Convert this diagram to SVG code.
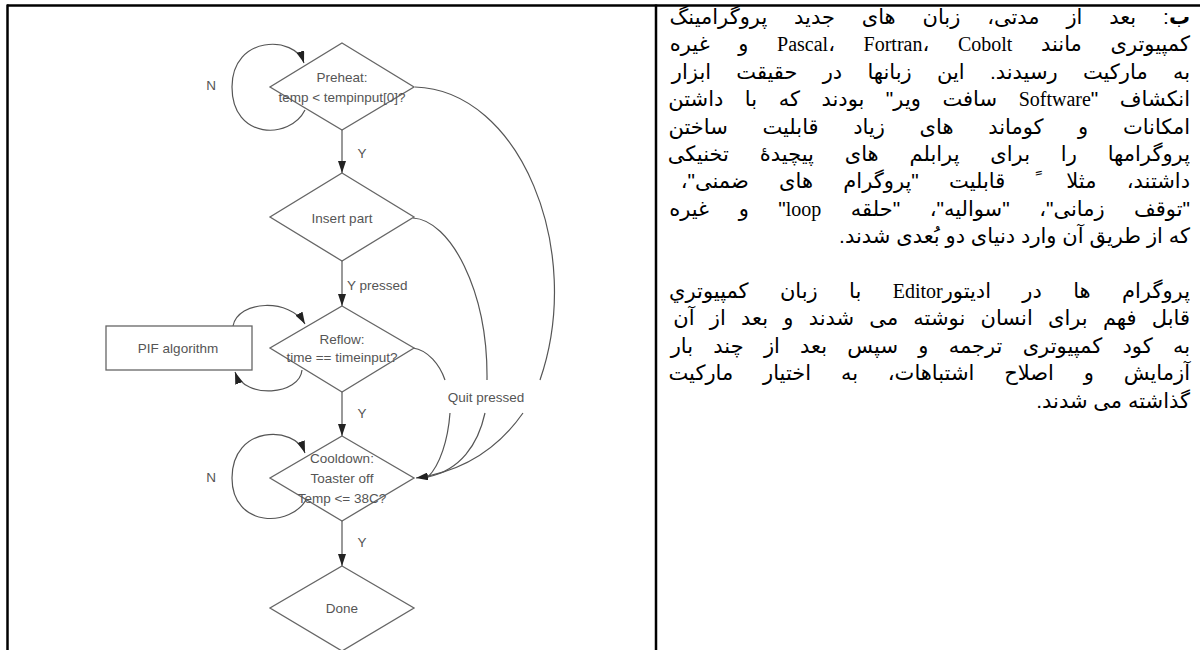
<svg xmlns="http://www.w3.org/2000/svg" width="1200" height="650" viewBox="0 0 1200 650">
<defs>
<marker id="ah" markerWidth="12" markerHeight="8" refX="12" refY="4" orient="auto" markerUnits="userSpaceOnUse">
<path d="M0,0 L12,4 L0,8 z" fill="#222"/>
</marker>
<style>
.shape{fill:#fff;stroke:#666;stroke-width:1.3}
.lbl{font-family:"Liberation Sans",Arial,sans-serif;font-size:13.5px;fill:#555;text-anchor:middle}
.cn{fill:none;stroke:#555;stroke-width:1.2}
.fa{font-family:"Liberation Sans","DejaVu Sans",sans-serif;font-size:21px;fill:#000}
.lat{font-family:"Liberation Serif","Times New Roman",serif;font-size:20px}
.frame{stroke:#000;stroke-width:2.5;fill:none}
</style>
</defs>
<rect width="1200" height="650" fill="#fff"/>
<g id="frame">
<line class="frame" x1="7" y1="5.5" x2="1200" y2="5.5"/>
<line class="frame" x1="7.5" y1="4.5" x2="7.5" y2="650"/>
<line class="frame" x1="656" y1="4.5" x2="656" y2="650"/>
</g>
<g id="connectors">
<path class="cn" d="M305,110 C290,140 232,140 232,87 C232,35 295,35 304,63" marker-end="url(#ah)"/>
<line class="cn" x1="342" y1="130" x2="342" y2="173" marker-end="url(#ah)"/>
<line class="cn" x1="342" y1="261" x2="342" y2="306" marker-end="url(#ah)"/>
<path class="cn" d="M233,326 C238,300 290,298 305,324" marker-end="url(#ah)"/>
<path class="cn" d="M302,370 C300,395 245,400 235,372" marker-end="url(#ah)"/>
<line class="cn" x1="342" y1="392" x2="342" y2="436" marker-end="url(#ah)"/>
<path class="cn" d="M307,498 C292,528 232,528 232,478 C232,425 295,425 305,453" marker-end="url(#ah)"/>
<line class="cn" x1="342" y1="521" x2="342" y2="566" marker-end="url(#ah)"/>
<path class="cn" d="M415,87 C520,90 585,250 540,380"/>
<path class="cn" d="M413,218 C450,220 488,290 487,380"/>
<path class="cn" d="M413,348 C428,350 440,365 445,380"/>
<path class="cn" d="M450,413 C448,440 440,465 428,477"/>
<path class="cn" d="M485,413 C478,445 460,470 428,477"/>
<path class="cn" d="M523,413 C497,450 460,472 416,478" marker-end="url(#ah)"/>
<text class="lbl" x="211" y="90">N</text>
<text class="lbl" x="362" y="158">Y</text>
<text class="lbl" x="347" y="290" style="text-anchor:start">Y pressed</text>
<text class="lbl" x="362" y="418">Y</text>
<text class="lbl" x="211" y="482">N</text>
<text class="lbl" x="362" y="547">Y</text>
<text class="lbl" x="486" y="402">Quit pressed</text>
</g>
<g id="preheat">
<polygon class="shape" points="342,43 414,87 342,130 270,87"/>
<text class="lbl" x="342" y="82">Preheat:</text>
<text class="lbl" x="342" y="102">temp &lt; tempinput[0]?</text>
</g>
<g id="insert">
<polygon class="shape" points="342,173 414,217 342,261 270,217"/>
<text class="lbl" x="342" y="223">Insert part</text>
</g>
<g id="reflow">
<polygon class="shape" points="342,306 414,348 342,392 270,348"/>
<text class="lbl" x="342" y="344">Reflow:</text>
<text class="lbl" x="342" y="362">time == timeinput?</text>
</g>
<g id="pif">
<rect class="shape" x="106" y="326" width="146" height="44"/>
<text class="lbl" x="178" y="353">PIF algorithm</text>
</g>
<g id="cooldown">
<polygon class="shape" points="342,436 414,478 342,521 270,478"/>
<text class="lbl" x="342" y="463">Cooldown:</text>
<text class="lbl" x="342" y="483">Toaster off</text>
<text class="lbl" x="342" y="503">Temp &lt;= 38C?</text>
</g>
<g id="done">
<polygon class="shape" points="342,566 414,608 342,651 270,608"/>
<text class="lbl" x="342" y="613">Done</text>
</g>
<g id="textblock" class="fa" direction="rtl">
<text x="1190" y="24" direction="rtl" text-anchor="start" word-spacing="21"><tspan font-weight="bold">ب</tspan>: بعد از مدتی، زبان های جدید پروگرامینگ</text>
<text x="1190" y="51.4" direction="rtl" text-anchor="start" word-spacing="22.8">کمپیوتری مانند <tspan class="lat">Pascal</tspan>، <tspan class="lat">Fortran</tspan>، <tspan class="lat">Cobolt</tspan> و غیره</text>
<text x="1190" y="78.8" direction="rtl" text-anchor="start" word-spacing="19.4">به مارکیت رسیدند. این زبانها در حقیقت ابزار</text>
<text x="1190" y="106.2" direction="rtl" text-anchor="start" word-spacing="15.7">انکشاف "<tspan class="lat">Software</tspan> سافت ویر" بودند که با داشتن</text>
<text x="1190" y="133.6" direction="rtl" text-anchor="start" word-spacing="28.8">امکانات و کوماند های زیاد قابلیت ساختن</text>
<text x="1190" y="161" direction="rtl" text-anchor="start" word-spacing="25">پروگرامها را برای پرابلم های پیچیدۀ تخنیکی</text>
<text x="1190" y="188.4" direction="rtl" text-anchor="start" word-spacing="24.5">داشتند، مثلا ً قابلیت "پروگرام های ضمنی"،</text>
<text x="1190" y="215.8" direction="rtl" text-anchor="start" word-spacing="23.7">"توقف زمانی"، "سوالیه"، "حلقه <tspan class="lat">loop</tspan>" و غیره</text>
<text x="1190" y="243.2" direction="rtl" text-anchor="start">که از طریق آن وارد دنیای  دو بُعدی شدند.</text>
<text x="1190" y="298" direction="rtl" text-anchor="start" word-spacing="25.5">پروگرام ها در ادیتور<tspan class="lat">Editor</tspan> با زبان کمپیوتري</text>
<text x="1190" y="325.4" direction="rtl" text-anchor="start" word-spacing="9.4">قابل فهم برای انسان نوشته می شدند و بعد از آن</text>
<text x="1190" y="352.8" direction="rtl" text-anchor="start" word-spacing="14.4">به کود کمپیوتری ترجمه و سپس بعد از چند بار</text>
<text x="1190" y="380.2" direction="rtl" text-anchor="start" word-spacing="24">آزمایش و اصلاح اشتباهات، به اختیار مارکیت</text>
<text x="1190" y="407.6" direction="rtl" text-anchor="start">گذاشته می شدند.</text>
</g>
</svg>
